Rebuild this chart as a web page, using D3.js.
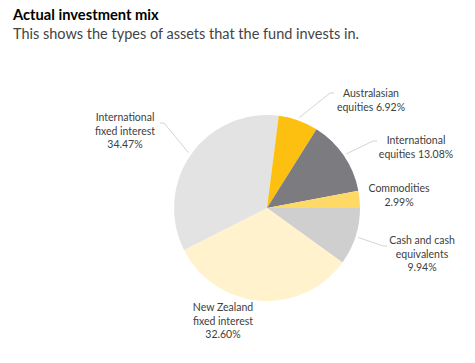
<!DOCTYPE html>
<html><head><meta charset="utf-8">
<script src="https://cdn.jsdelivr.net/npm/d3@7"></script>
<style>body{margin:0;background:#fff;}svg{display:block;}</style>
</head><body>
<script>
const categories = ["Cash and cash equivalents","New Zealand fixed interest","International fixed interest","Australasian equities","International equities","Commodities"];
const values = [9.94, 32.60, 34.47, 6.92, 13.08, 2.99];
const labelLines = [["Cash and cash","equivalents","9.94%"],["New Zealand","fixed interest","32.60%"],["International","fixed interest","34.47%"],["Australasian","equities 6.92%"],["International","equities 13.08%"],["Commodities","2.99%"]];
const colors = ["#cfcfcf","#fff2cc","#e3e3e3","#fdc010","#7c7b7f","#ffd966"];
// label layout: text center x, first baseline y, elbow point, tail end x (null = no leader)
const layout = [
  {x:422,y:244,elbow:[383,246],tail:387},
  {x:223,y:311,elbow:null},
  {x:125,y:121,elbow:[164,123],tail:160},
  {x:371,y:97,elbow:[330,93],tail:334},
  {x:416,y:144,elbow:[373,141],tail:377},
  {x:399,y:192,elbow:null}
];
const W=475,H=363,cx=267,cy=208,R=93;
const svg=d3.select("body").append("svg").attr("width",W).attr("height",H);
svg.append("text").attr("x",13).attr("y",20).attr("font-family","Lato, 'Open Sans', sans-serif").attr("font-weight","bold").attr("font-size",14.7).attr("fill","#000").text("Actual investment mix");
svg.append("text").attr("x",13).attr("y",39).attr("font-family","Lato, 'Open Sans', sans-serif").attr("font-size",14.5).attr("fill","#444").text("This shows the types of assets that the fund invests in.");
const pie=d3.pie().sort(null).value(d=>d).startAngle(Math.PI/2).endAngle(Math.PI/2+2*Math.PI);
const arcs=pie(values);
const arc=d3.arc().innerRadius(0).outerRadius(R);
const g=svg.append("g").attr("transform",`translate(${cx},${cy})`);
g.selectAll("path").data(arcs).join("path").attr("d",arc).attr("fill",(d,i)=>colors[i]);
const lineArc=d3.arc().innerRadius(R+3).outerRadius(R+3);
arcs.forEach((a,i)=>{
  const L=layout[i];
  if(L.elbow){
    const c=lineArc.centroid(a);
    const pts=[[cx+c[0],cy+c[1]],L.elbow,[L.tail,L.elbow[1]]];
    svg.append("path").attr("d",d3.line()(pts)).attr("fill","none").attr("stroke","#d4d4d4").attr("stroke-width",1);
  }
  const t=svg.append("text").attr("text-anchor","middle").attr("font-family","Lato, 'Open Sans', sans-serif").attr("font-size",10.5).attr("fill","#404040");
  labelLines[i].forEach((s,j)=>{
    t.append("tspan").attr("x",L.x).attr("y",L.y+j*13.5).text(s);
  });
});
</script>
</body></html>
